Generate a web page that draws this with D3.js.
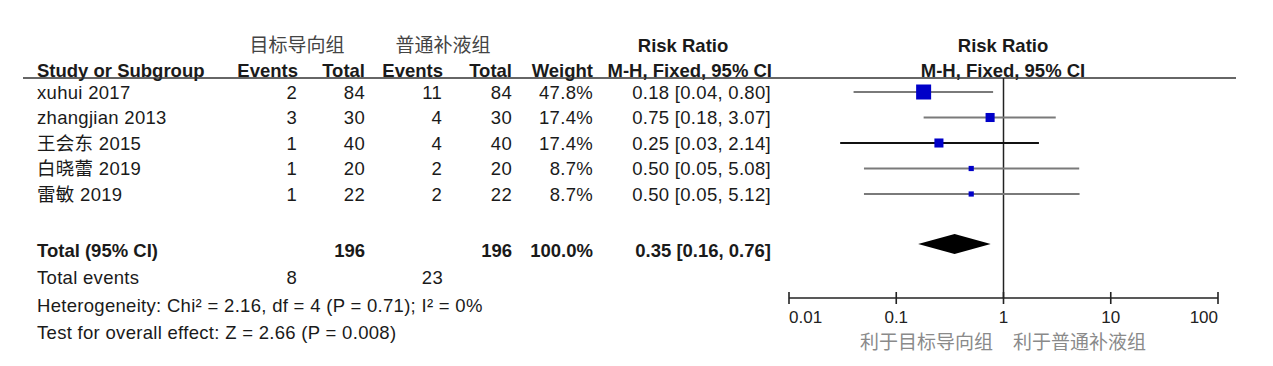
<!DOCTYPE html>
<html><head><meta charset="utf-8">
<script src="https://cdn.jsdelivr.net/npm/d3@7"></script>
<style>
html,body{margin:0;padding:0;background:#fff;}
svg text{font-family:"Liberation Sans",Arial,"Noto Sans CJK SC",sans-serif;fill:#1a1a1a;}
</style></head>
<body><svg id="c" width="1273" height="366"></svg>
<script>
const studies = ["xuhui 2017","zhangjian 2013","王会东 2015","白晓蕾 2019","雷敏 2019"];
const expEvents = [2,3,1,1,1];
const expTotal = [84,30,40,20,22];
const ctlEvents = [11,4,4,2,2];
const ctlTotal = [84,30,40,20,22];
const weights = [47.8,17.4,17.4,8.7,8.7];
const rr = [0.18,0.75,0.25,0.50,0.50];
const ciLo = [0.04,0.18,0.03,0.05,0.05];
const ciHi = [0.80,3.07,2.14,5.08,5.12];
const ciText = ["0.18 [0.04, 0.80]","0.75 [0.18, 3.07]","0.25 [0.03, 2.14]","0.50 [0.05, 5.08]","0.50 [0.05, 5.12]"];
const total = {exp:196, ctl:196, weight:"100.0%", rr:0.35, lo:0.16, hi:0.76, text:"0.35 [0.16, 0.76]", expEv:8, ctlEv:23};
const axisTicks = [0.01,0.1,1,10,100];
const axisTickLabels = ["0.01","0.1","1","10","100"];
const groupNames = ["目标导向组","普通补液组"];
const favourLabels = ["利于目标导向组","利于普通补液组"];
const hetText = "Heterogeneity: Chi² = 2.16, df = 4 (P = 0.71); I² = 0%";
const testText = "Test for overall effect: Z = 2.66 (P = 0.008)";

const svg = d3.select("#c");
const FS = 18.5;
const x = d3.scaleLog().domain([0.01,100]).range([789,1218]);
const y = d3.scaleLinear().domain([0,4]).range([92,194]);
const yTotal = 250, yTotEv = 277, yHet = 305, yTest = 332;
const yH1 = 45, yH2 = 70, yLine = 78, yAxis = 298;
const size = d3.scaleSqrt().domain([0,47.8]).range([0,15]);

function txt(xp, yp, s, opt={}) {
  return svg.append("text").attr("x", xp).attr("y", yp).attr("dy","0.36em")
    .attr("text-anchor", opt.anchor||"start")
    .attr("font-size", opt.size||FS)
    .attr("font-weight", opt.bold?"bold":"normal")
    .attr("letter-spacing", opt.ls!=null?opt.ls:(opt.bold?0:0.3))
    .style("fill", opt.fill||"#1a1a1a")
    .text(s);
}
const cols = {ev1:298, tot1:365, ev2:443, tot2:512, w:593, ci:772};

txt(297, yH1, groupNames[0], {anchor:"middle", fill:"#444", size:19, ls:0});
txt(443, yH1, groupNames[1], {anchor:"middle", fill:"#444", size:19, ls:0});
txt(683, yH1, "Risk Ratio", {anchor:"middle", bold:true});
txt(1003, yH1, "Risk Ratio", {anchor:"middle", bold:true});
txt(37, yH2, "Study or Subgroup", {bold:true});
txt(cols.ev1, yH2, "Events", {bold:true, anchor:"end"});
txt(cols.tot1, yH2, "Total", {bold:true, anchor:"end"});
txt(cols.ev2, yH2, "Events", {bold:true, anchor:"end"});
txt(cols.tot2, yH2, "Total", {bold:true, anchor:"end"});
txt(cols.w, yH2, "Weight", {bold:true, anchor:"end"});
txt(cols.ci, yH2, "M-H, Fixed, 95% CI", {bold:true, anchor:"end"});
txt(1003, yH2, "M-H, Fixed, 95% CI", {bold:true, anchor:"middle"});

svg.append("line").attr("x1",23).attr("x2",1236).attr("y1",yLine).attr("y2",yLine)
  .attr("stroke","#333").attr("stroke-width",1.6);

studies.forEach((s,i)=>{
  const yy = y(i);
  txt(37, yy, s);
  txt(cols.ev1-1, yy, expEvents[i], {anchor:"end"});
  txt(cols.tot1, yy, expTotal[i], {anchor:"end"});
  txt(cols.ev2-1, yy, ctlEvents[i], {anchor:"end"});
  txt(cols.tot2, yy, ctlTotal[i], {anchor:"end"});
  txt(cols.w, yy, weights[i].toFixed(1)+"%", {anchor:"end"});
  txt(cols.ci-1, yy, ciText[i], {anchor:"end"});
});

txt(37, yTotal, "Total (95% CI)", {bold:true});
txt(cols.tot1, yTotal, total.exp, {bold:true, anchor:"end"});
txt(cols.tot2, yTotal, total.ctl, {bold:true, anchor:"end"});
txt(cols.w, yTotal, total.weight, {bold:true, anchor:"end"});
txt(cols.ci-1, yTotal, total.text, {bold:true, anchor:"end"});
txt(37, yTotEv, "Total events");
txt(cols.ev1-1, yTotEv, total.expEv, {anchor:"end"});
txt(cols.ev2, yTotEv, total.ctlEv, {anchor:"end"});
txt(37, yHet, hetText);
txt(37, yTest, testText);

svg.append("line").attr("x1",x(1)).attr("x2",x(1)).attr("y1",yLine).attr("y2",yAxis)
  .attr("stroke","#222").attr("stroke-width",1.5);

const g = svg.append("g");
studies.forEach((s,i)=>{
  const yy = y(i);
  g.append("line").attr("x1",x(ciLo[i])).attr("x2",x(ciHi[i])).attr("y1",yy).attr("y2",yy)
    .attr("stroke", i===2?"#111":"#7a7a7a").attr("stroke-width",2);
  const sz = Math.max(4.5, size(weights[i]) - (weights[i] < 10 ? 1.2 : 0));
  g.append("rect").attr("x",x(rr[i])-sz/2).attr("y",yy-sz/2).attr("width",sz).attr("height",sz)
    .attr("fill","#0000c8");
});

const yd = 244;
svg.append("path").attr("d", d3.line()([[x(total.lo),yd],[x(total.rr),yd-10],[x(total.hi),yd],[x(total.rr),yd+10]]) + "Z")
  .attr("fill","#000");

const ax = svg.append("g").attr("transform",`translate(0,${yAxis})`);
ax.append("line").attr("x1",x(0.01)).attr("x2",x(100)).attr("stroke","#222").attr("stroke-width",1.6);
axisTicks.forEach((t,i)=>{
  ax.append("line").attr("x1",x(t)).attr("x2",x(t)).attr("y1",-6).attr("y2",6).attr("stroke","#222").attr("stroke-width",1.6);
  const anchor = i===0?"start":(i===axisTicks.length-1?"end":"middle");
  ax.append("text").attr("x",x(t)).attr("y",19).attr("dy","0.36em").attr("text-anchor",anchor)
    .attr("font-size",17).style("fill","#222").text(axisTickLabels[i]);
});
txt(993, 342, favourLabels[0], {anchor:"end", fill:"#8a8a8a", size:19, ls:0});
txt(1013, 342, favourLabels[1], {anchor:"start", fill:"#8a8a8a", size:19, ls:0});
</script></body></html>
